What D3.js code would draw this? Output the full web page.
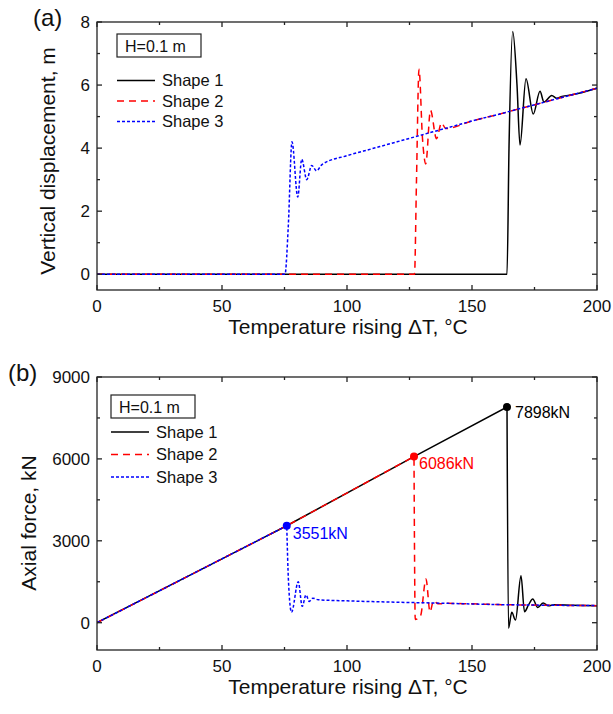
<!DOCTYPE html>
<html>
<head>
<meta charset="utf-8">
<script src="https://cdn.jsdelivr.net/npm/d3@7"></script>
<style>
  body { margin: 0; background: #fff; }
  svg { font-family: "Liberation Sans", Arial, sans-serif; }
</style>
</head>
<body>
<div id="chart"></div>
<script>
'use strict';

// ---- data ----
const seriesNames = ['Shape 1', 'Shape 2', 'Shape 3'];
const tempTicks = [0, 50, 100, 150, 200];
const dispTicks = [0, 2, 4, 6, 8];
const forceTicks = [0, 3000, 6000, 9000];

// panel (a): [ΔT, vertical displacement m]
const shape1Disp = [[0, 0], [164, 0], [164.8, 4], [166.3, 7.7], [168, 6], [169.2, 4.1], [171.6, 6.2],
  [174.5, 5.08], [177.2, 5.8], [178.8, 5.46], [181.9, 5.67], [183.9, 5.58], [186, 5.64], [190, 5.69], [200, 5.9]];
const shape2Disp = [[0, 0], [127, 0], [127.8, 3], [128.8, 6.5], [130.2, 4.3], [131.5, 3.5], [133.4, 5.2],
  [135.8, 4.3], [137.8, 4.8], [139.5, 4.62], [150, 4.86], [160, 5.06], [170, 5.27], [180, 5.48], [190, 5.69], [200, 5.9]];
const shape3Disp = [[0, 0], [75.2, 0], [76.5, 1.5], [78, 4.2], [80.3, 2.45], [81.9, 3.65], [83.9, 3.0],
  [85.9, 3.45], [87.8, 3.28], [90, 3.48], [100, 3.76], [110, 3.98], [120, 4.2], [130, 4.42], [140, 4.64],
  [150, 4.86], [160, 5.06], [170, 5.27], [180, 5.48], [190, 5.69], [200, 5.9]];

// panel (b): [ΔT, axial force kN]
const shape1Force = [[0, 0], [75.9, 3551], [126.8, 6086], [164, 7898], [164.6, -200], [165.9, 380],
  [167.4, 100], [169.6, 1720], [171, 400], [172.6, 650], [174.3, 870], [176.3, 560], [178.5, 720],
  [180.5, 620], [183, 660], [190, 640], [200, 625]];
const shape2Force = [[0, 0], [75.9, 3551], [126.8, 6086], [127.3, 120], [129.4, 250], [131.6, 1600],
  [133.2, 400], [134.6, 800], [136.5, 690], [140, 710], [150, 690], [160, 665], [170, 650], [180, 640], [200, 625]];
const shape3Force = [[0, 0], [75.9, 3551], [76.6, 1500], [77.8, 380], [80.5, 1500], [82.1, 600],
  [83.6, 1020], [84.9, 780], [86.3, 900], [88.5, 840], [100, 800], [120, 750], [140, 710], [160, 665],
  [180, 640], [200, 625]];

// peak force markers
const peakT = [164, 126.8, 75.9];
const peakForce = [7898, 6086, 3551];

const colors = ['#000000', '#ff0000', '#0000ff'];
const dashes = [null, '7,5', '3,2'];

const svg = d3.select('#chart').append('svg')
    .attr('width', 613)
    .attr('height', 714);

function panel(opt) {
  const x = d3.scaleLinear().domain([0, 200]).range([97, 597]);
  const y = d3.scaleLinear().domain(opt.yDomain).range([opt.bottom, opt.top]);
  const g = svg.append('g');

  const straight = d3.line()
      .x(d => x(d[0]))
      .y(d => y(d[1]));
  const smooth = d3.line()
      .x(d => x(d[0]))
      .y(d => y(d[1]))
      .curve(d3.curveMonotoneX);

  const clip = 'clip' + opt.id;
  g.append('clipPath').attr('id', clip)
    .append('rect')
      .attr('x', 97).attr('y', opt.top)
      .attr('width', 500).attr('height', opt.bottom - opt.top);

  // straight ramp up to the peak index, smooth curve for the rest
  opt.series.forEach((s, i) => {
    const k = opt.rampEnd[i];
    const d = straight(s.slice(0, k + 1)) + smooth(s.slice(k)).replace(/^M/, 'L');
    g.append('path')
        .attr('clip-path', `url(#${clip})`)
        .attr('fill', 'none')
        .attr('stroke', colors[i])
        .attr('stroke-width', 1.5)
        .attr('stroke-dasharray', dashes[i])
        .attr('d', d);
  });

  // axes: inward ticks on all four sides
  const axisCol = '#222';
  const xMinor = d3.range(25, 200, 50);
  const ax = g.append('g').attr('stroke', axisCol).attr('stroke-width', 1.3);
  ax.append('rect')
      .attr('x', 97).attr('y', opt.top)
      .attr('width', 500).attr('height', opt.bottom - opt.top)
      .attr('fill', 'none');

  tempTicks.forEach(t => {
    ax.append('line').attr('x1', x(t)).attr('x2', x(t)).attr('y1', opt.bottom).attr('y2', opt.bottom - 5);
    ax.append('line').attr('x1', x(t)).attr('x2', x(t)).attr('y1', opt.top).attr('y2', opt.top + 5);
  });
  xMinor.forEach(t => {
    ax.append('line').attr('x1', x(t)).attr('x2', x(t)).attr('y1', opt.bottom).attr('y2', opt.bottom - 3);
    ax.append('line').attr('x1', x(t)).attr('x2', x(t)).attr('y1', opt.top).attr('y2', opt.top + 3);
  });
  opt.yTicks.forEach(v => {
    ax.append('line').attr('x1', 97).attr('x2', 102).attr('y1', y(v)).attr('y2', y(v));
    ax.append('line').attr('x1', 597).attr('x2', 592).attr('y1', y(v)).attr('y2', y(v));
  });
  opt.yMinor.forEach(v => {
    ax.append('line').attr('x1', 97).attr('x2', 100).attr('y1', y(v)).attr('y2', y(v));
    ax.append('line').attr('x1', 597).attr('x2', 594).attr('y1', y(v)).attr('y2', y(v));
  });

  g.selectAll('.xt')
      .data(tempTicks)
    .enter().append('text')
      .attr('x', d => x(d))
      .attr('y', opt.bottom + 22)
      .attr('text-anchor', 'middle')
      .attr('font-size', 17)
      .attr('fill', '#111')
      .text(d => d);

  g.selectAll('.yt')
      .data(opt.yTicks)
    .enter().append('text')
      .attr('x', 90)
      .attr('y', d => y(d))
      .attr('dy', '0.36em')
      .attr('text-anchor', 'end')
      .attr('font-size', 17)
      .attr('fill', '#111')
      .text(d => d);

  g.append('text')
      .attr('x', 348)
      .attr('y', opt.bottom + 44)
      .attr('text-anchor', 'middle')
      .attr('font-size', 21)
      .attr('fill', '#111')
      .text('Temperature rising \u0394T, \u00B0C');

  g.append('text')
      .attr('transform', `translate(${opt.yLabelX}, ${opt.yLabelY}) rotate(-90)`)
      .attr('text-anchor', 'middle')
      .attr('font-size', 21)
      .attr('fill', '#111')
      .text(opt.yLabel);

  g.append('text')
      .attr('x', opt.tagX)
      .attr('y', opt.top + 4)
      .attr('font-size', 24)
      .attr('fill', '#111')
      .text(opt.tag);

  // legend
  const lg = g.append('g');
  lg.append('rect')
      .attr('x', opt.legX).attr('y', opt.legY)
      .attr('width', 84).attr('height', 23)
      .attr('fill', '#fff')
      .attr('stroke', '#222')
      .attr('stroke-width', 1.2);
  lg.append('text')
      .attr('x', opt.legX + 8).attr('y', opt.legY + 17.5)
      .attr('font-size', 16)
      .attr('fill', '#111')
      .text('H=0.1 m');
  seriesNames.forEach((n, i) => {
    const yy = opt.legY + opt.legGap + i * opt.legStep;
    lg.append('line')
        .attr('x1', opt.legX).attr('x2', opt.legX + 38)
        .attr('y1', yy).attr('y2', yy)
        .attr('stroke', colors[i])
        .attr('stroke-width', 1.5)
        .attr('stroke-dasharray', dashes[i]);
    lg.append('text')
        .attr('x', opt.legX + 45).attr('y', yy)
        .attr('dy', '0.35em')
        .attr('font-size', 16.5)
        .attr('fill', '#111')
        .text(n);
  });

  return {x, y, g};
}

panel({
  id: 'a', top: 22, bottom: 290, yDomain: [-0.5, 8],
  yTicks: dispTicks, yMinor: [1, 3, 5, 7],
  series: [shape1Disp, shape2Disp, shape3Disp],
  rampEnd: [0, 0, 0],
  yLabelX: 55, yLabelY: 161, yLabel: 'Vertical displacement, m',
  tag: '(a)', tagX: 33,
  legX: 117, legY: 34, legGap: 46.5, legStep: 20.5
});

const b = panel({
  id: 'b', top: 377, bottom: 650, yDomain: [-1000, 9000],
  yTicks: forceTicks, yMinor: [1500, 4500, 7500],
  series: [shape1Force, shape2Force, shape3Force],
  rampEnd: [3, 2, 1],
  yLabelX: 36, yLabelY: 523, yLabel: 'Axial force, kN',
  tag: '(b)', tagX: 8,
  legX: 111, legY: 395, legGap: 37, legStep: 22.5
});

const labelDx = [8, 5, 6];
const labelDy = [5, 7, 8];
b.g.selectAll('.peak')
    .data(peakT)
  .enter().append('circle')
    .attr('cx', d => b.x(d))
    .attr('cy', (d, i) => b.y(peakForce[i]))
    .attr('r', 4)
    .attr('fill', (d, i) => colors[i]);

b.g.selectAll('.peakLabel')
    .data(peakT)
  .enter().append('text')
    .attr('x', (d, i) => b.x(d) + labelDx[i])
    .attr('y', (d, i) => b.y(peakForce[i]) + labelDy[i])
    .attr('dy', '0.35em')
    .attr('font-size', 16)
    .attr('fill', (d, i) => colors[i])
    .text((d, i) => `${peakForce[i]}kN`);
</script>
</body>
</html>
